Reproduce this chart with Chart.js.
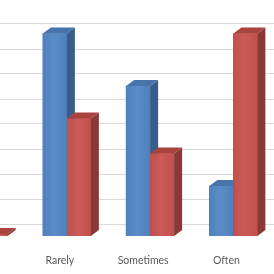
<!DOCTYPE html>
<html>
<head>
<meta charset="utf-8">
<script src="https://cdn.jsdelivr.net/npm/chart.js@4/dist/chart.umd.min.js"></script>
<style>
  html, body { margin: 0; padding: 0; background: #fff; overflow: hidden; width: 274px; height: 274px; }
  #wrap { position: absolute; left: -70px; top: 0; width: 360px; height: 292px; }
</style>
</head>
<body>
<div id="wrap"><canvas id="chart" width="360" height="292"></canvas></div>
<script>
// Data (one gridline = 5)
const categories = ['Never', 'Rarely', 'Sometimes', 'Often'];
const blueValues = [20, 40.5, 30, 10];
const redValues = [0.4, 23.5, 16.5, 40.5];
const gridSteps = [0, 5, 10, 15, 20, 25, 30, 35, 40];

// 3D look
const depthX = 8;
const depthY = 6;
const faceColors = [
    { front: '#4F81BD', light: '#5A8CC8', top: '#4674AB', side: '#385D8A' },
    { front: '#C0504D', light: '#CB5B57', top: '#A9433F', side: '#8C3836' }
];

const bar3d = {
    id: 'bar3d',
    afterDatasetsDraw(chart) {
        const ctx = chart.ctx;
        const metas = chart.data.datasets.map((d, i) => chart.getDatasetMeta(i));
        categories.forEach((c, i) => {
            metas.forEach((meta, di) => {
                const bar = meta.data[i];
                const p = bar.getProps(['x', 'y', 'base', 'width'], true);
                const left = p.x - p.width / 2;
                const right = p.x + p.width / 2;
                const top = Math.min(p.y, p.base);
                const bottom = Math.max(p.y, p.base);
                const col = faceColors[di];
                ctx.save();
                // front
                const grad = ctx.createLinearGradient(left, 0, right, 0);
                grad.addColorStop(0, col.front);
                grad.addColorStop(0.45, col.light);
                grad.addColorStop(1, col.front);
                ctx.fillStyle = grad;
                ctx.fillRect(left, top, right - left, bottom - top);
                // top face
                ctx.fillStyle = col.top;
                ctx.beginPath();
                ctx.moveTo(left, top);
                ctx.lineTo(left + depthX, top - depthY);
                ctx.lineTo(right + depthX, top - depthY);
                ctx.lineTo(right, top);
                ctx.closePath();
                ctx.fill();
                // side face
                ctx.fillStyle = col.side;
                ctx.beginPath();
                ctx.moveTo(right, top);
                ctx.lineTo(right + depthX, top - depthY);
                ctx.lineTo(right + depthX, bottom - depthY);
                ctx.lineTo(right, bottom);
                ctx.closePath();
                ctx.fill();
                ctx.restore();
            });
        });
    }
};

new Chart(document.getElementById('chart'), {
    type: 'bar',
    data: {
        labels: categories,
        datasets: [
            { label: 'Series 1', data: blueValues, backgroundColor: '#4F81BD', yAxisID: 'y', barThickness: 24 },
            { label: 'Series 2', data: redValues, backgroundColor: '#C0504D', yAxisID: 'y', barThickness: 24 }
        ]
    },
    options: {
        responsive: false,
        animation: false,
        layout: { padding: { left: 12, right: 15, top: 0, bottom: 7.4 } },
        plugins: {
            legend: { display: false },
            tooltip: { enabled: false }
        },
        scales: {
            x: {
                grid: { display: false, drawTicks: false },
                border: { display: false },
                ticks: {
                    padding: 18,
                    labelOffset: -7,
                    color: '#595959',
                    font: { family: 'Lato', size: 10.5 },
                    maxRotation: 0,
                    autoSkip: false
                }
            },
            y: { display: false, min: 0, max: 47.2 },
            grid: {
                position: 'left',
                min: -2.4,
                max: 44.8,
                ticks: { display: false },
                grid: { color: '#D9D9D9', drawTicks: false },
                border: { display: false },
                afterBuildTicks: axis => {
                    axis.ticks = gridSteps.map(v => ({ value: v }));
                }
            }
        }
    },
    plugins: [bar3d]
});
</script>
</body>
</html>
